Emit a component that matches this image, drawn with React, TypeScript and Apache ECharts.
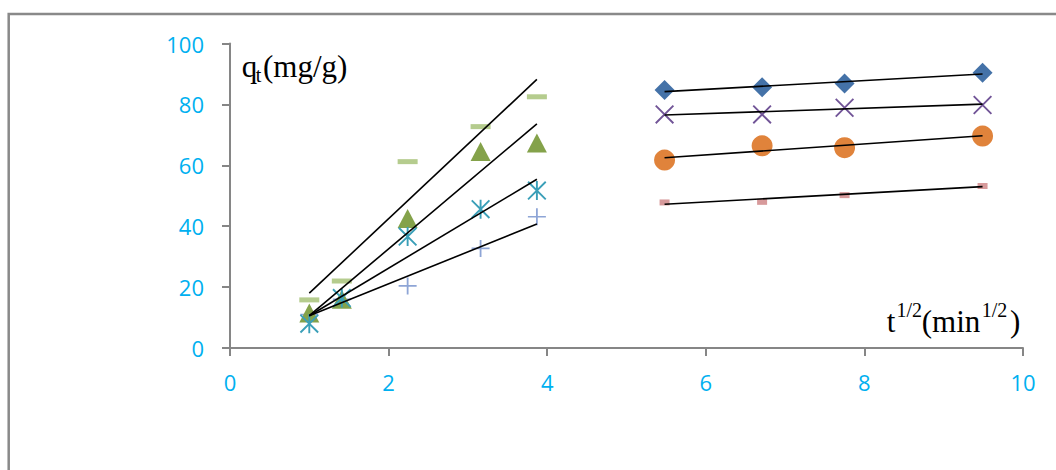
import React, { useEffect, useRef } from "react";
import * as echarts from "echarts";

// Square-root time (t^1/2) at which each batch was sampled
const tEarly = [1, 1.41, 2.24, 3.16, 3.87];
const tLate = [5.48, 6.71, 7.75, 9.49];

// Uptake q_t (mg/g), early stage
const qDash = [15.8, 22, 61.2, 72.7, 82.5];
const qTriangle = [11.5, 16, 42.5, 64.5, 67.3];
const qStar = [8, 16.4, 36.6, 45.6, 51.7];
const qPlus = [11, 16, 20.4, 32.7, 43.1];

// Uptake q_t (mg/g), late stage
const qDiamond = [84.7, 85.6, 86.9, 90.4];
const qCross = [76.7, 76.7, 78.9, 79.8];
const qCircle = [61.7, 66.4, 65.8, 69.6];
const qSquare = [47.8, 48.0, 50.2, 53.2];

// Fitted line end values (q at first and last t of each stage)
const fitEarlyX = [1, 3.87];
const fitDash = [18, 88.2];
const fitTriangle = [10.6, 73.6];
const fitStar = [10.6, 55.4];
const fitPlus = [10.6, 40.7];

const fitLateX = [5.48, 9.49];
const fitDiamond = [84.2, 90.0];
const fitCross = [76.5, 80.1];
const fitCircle = [62.5, 69.7];
const fitSquare = [47.2, 53.0];

const xTicks = { min: 0, max: 10, interval: 2 };
const yTicks = { min: 0, max: 100, interval: 20 };

const PLUS = "path://M9,0h2v9h9v2h-9v9h-2v-9h-9v-2h9z";
const CROSS = "path://M0,1.4L1.4,0L20,18.6L18.6,20Z M18.6,0L20,1.4L1.4,20L0,18.6Z";
const STAR =
  "path://M0,1.4L1.4,0L20,18.6L18.6,20Z M18.6,0L20,1.4L1.4,20L0,18.6Z M9,0L11,0L11,20L9,20Z";

const zip = (xs: number[], ys: number[]) => xs.map((x, i) => [x, ys[i]]);

function scatter(name: string, xs: number[], ys: number[], symbol: string, size: number | number[], color: string, z: number) {
  return {
    name,
    type: "scatter",
    data: zip(xs, ys),
    symbol,
    symbolSize: size,
    itemStyle: { color, opacity: 1 },
    z,
  };
}

function fit(name: string, xs: number[], ys: number[]) {
  return {
    name,
    type: "line",
    data: zip(xs, ys),
    showSymbol: false,
    symbol: "none",
    lineStyle: { color: "#000000", width: 1.6 },
    z: 10,
  };
}

const serif = "'Liberation Serif', 'Times New Roman', serif";

// Text piece of an axis title; y is the vertical centre of the glyph box
function piece(text: string, x: number, y: number, size: number) {
  return {
    type: "text",
    x,
    y,
    silent: true,
    style: {
      text,
      font: `${size}px ${serif}`,
      fill: "#000000",
      align: "left",
      verticalAlign: "middle",
    },
  };
}

export default function App() {
  const ref = useRef<HTMLDivElement>(null);

  useEffect(() => {
    if (!ref.current) return;
    const chart = echarts.init(ref.current, undefined, { renderer: "svg" });
    const axisColor = "#868686";
    const labelStyle = {
      color: "#00B0F0",
      fontFamily: "'Open Sans', sans-serif",
      fontSize: 22,
    };

    chart.setOption({
      animation: false,
      backgroundColor: "#ffffff",
      grid: { left: 230, top: 43.5, width: 793, height: 304.5 },
      xAxis: {
        type: "value",
        ...xTicks,
        axisLine: { show: true, onZero: false, lineStyle: { color: axisColor, width: 2 } },
        axisTick: { show: true, length: 8, lineStyle: { color: axisColor, width: 2 } },
        axisLabel: { ...labelStyle, margin: 23 },
        splitLine: { show: false },
      },
      yAxis: {
        type: "value",
        ...yTicks,
        axisLine: { show: true, lineStyle: { color: axisColor, width: 2 } },
        axisTick: { show: true, length: 8, lineStyle: { color: axisColor, width: 2 } },
        axisLabel: { ...labelStyle, margin: 26 },
        splitLine: { show: false },
      },
      series: [
        scatter("plus", tEarly, qPlus, PLUS, [18, 17], "#8EA5D6", 2),
        scatter("triangle", tEarly, qTriangle, "triangle", [20, 19], "#84A24A", 3),
        scatter("dash", tEarly, qDash, "rect", [20, 5], "#B5CC8E", 4),
        scatter("star", tEarly, qStar, STAR, [19, 19], "#3A9FB8", 5),
        scatter("square", tLate, qSquare, "rect", [10, 6], "#D79A9B", 2),
        scatter("circle", tLate, qCircle, "circle", 21, "#E0833B", 3),
        scatter("cross", tLate, qCross, CROSS, [19, 19], "#715497", 4),
        scatter("diamond", tLate, qDiamond, "diamond", [20, 20], "#4472A8", 5),
        fit("fitDash", fitEarlyX, fitDash),
        fit("fitTriangle", fitEarlyX, fitTriangle),
        fit("fitStar", fitEarlyX, fitStar),
        fit("fitPlus", fitEarlyX, fitPlus),
        fit("fitDiamond", fitLateX, fitDiamond),
        fit("fitCross", fitLateX, fitCross),
        fit("fitCircle", fitLateX, fitCircle),
        fit("fitSquare", fitLateX, fitSquare),
      ],
      graphic: [
        {
          type: "rect",
          shape: { x: 8.7, y: 14, width: 1200, height: 600 },
          style: { fill: "none", stroke: "#898989", lineWidth: 2.5 },
          silent: true,
          z: 0,
        },
        // y-axis title: q_t(mg/g)
        piece("q", 241.7, 66.2, 31),
        piece("t", 255.7, 75, 20),
        piece("(mg/g)", 263, 66.2, 31),
        // x-axis title: t^1/2(min^1/2)
        piece("t", 886.7, 321.8, 31),
        piece("1/2", 896.5, 310.3, 20),
        piece("(min", 921.7, 321.8, 31),
        piece("1/2", 981.7, 310.3, 20),
        piece(")", 1010, 321.8, 31),
      ],
    });

    return () => chart.dispose();
  }, []);

  return (
    <div
      ref={ref}
      style={{ position: "fixed", left: 0, top: 0, width: 1056, height: 470, background: "#fff" }}
    />
  );
}
